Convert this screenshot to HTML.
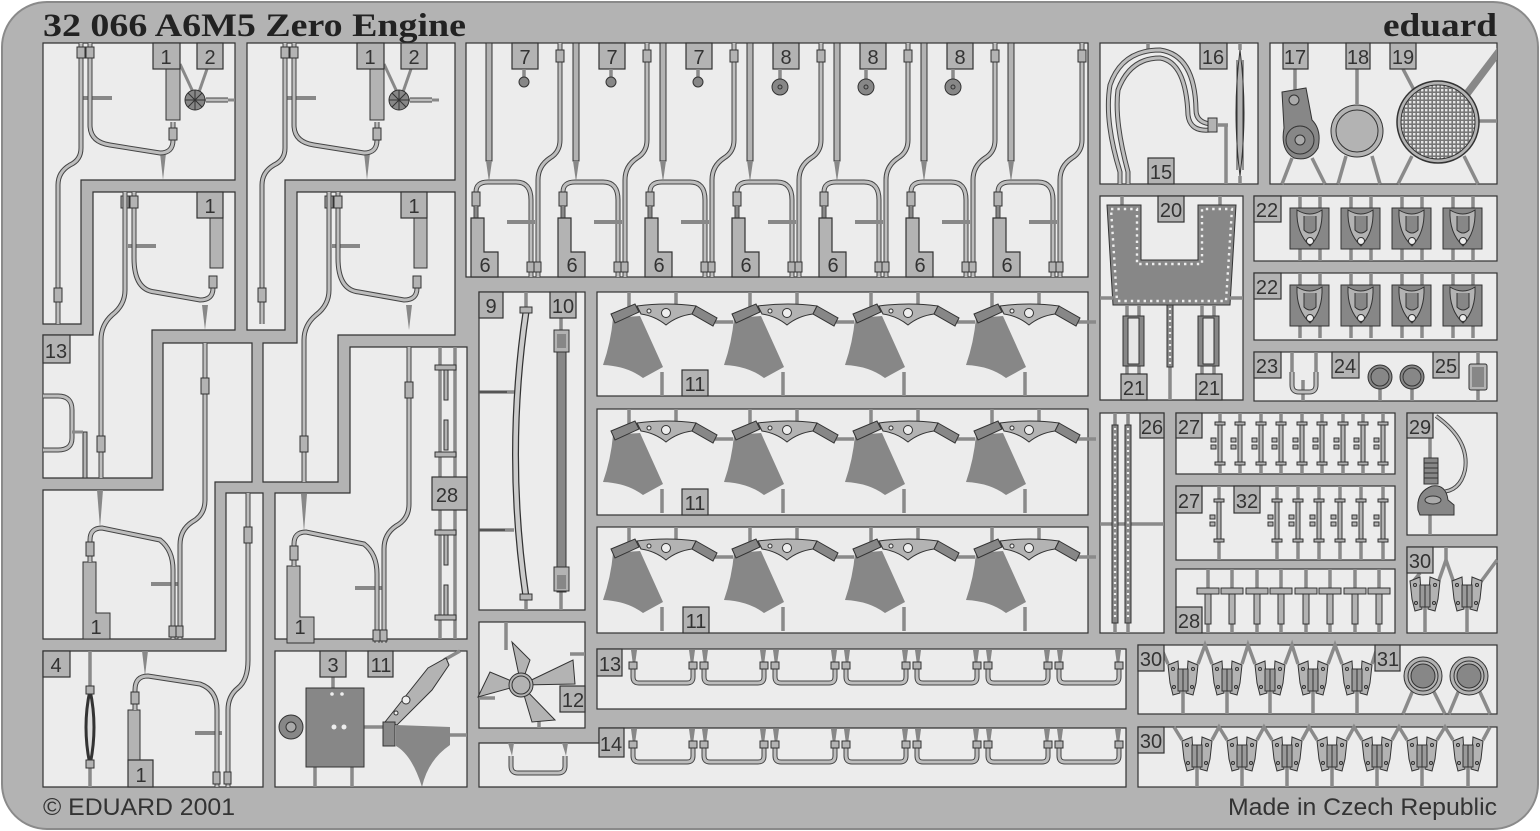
<!DOCTYPE html>
<html><head><meta charset="utf-8">
<style>
html,body{margin:0;padding:0;background:#fff;}
svg{display:block}
.p{fill:#ececec;stroke:#333;stroke-width:1.2}
.tab{fill:#b3b3b3;stroke:#333;stroke-width:1.2}
.lb{font-family:"Liberation Sans",sans-serif;font-size:20px;fill:#333;text-anchor:middle}
.tb{fill:none;stroke:#444;stroke-width:5}
.ti{fill:none;stroke:#bdbdbd;stroke-width:3}
.sp{stroke:#8a8a8a;stroke-width:3.5;fill:none}
.dk{fill:#878787;stroke:#333;stroke-width:1}
.lg{fill:#b3b3b3;stroke:#333;stroke-width:1}
.cn{fill:#b3b3b3;stroke:#333;stroke-width:1}
</style></head><body>
<svg width="1540" height="831" viewBox="0 0 1540 831" xmlns="http://www.w3.org/2000/svg">
<defs>
 <pattern id="grid" width="4" height="4" patternUnits="userSpaceOnUse"><rect width="4" height="4" fill="#777"/><rect x="1" y="1" width="2.4" height="2.4" fill="#e6e6e6"/></pattern>
 <g id="u6t"><path d="M94,43 V140 Q94,152 84,158 Q72,166 72,180 V277"/><path d="M10,218 V192 Q10,182 22,182 H50 Q65,182 65,200 V277"/></g>
 <g id="u6p">
  <rect x="20" y="43" width="6" height="118" class="lg"/><polygon points="20,161 26,161 23,182" fill="#888"/>
  <line x1="41" y1="222" x2="69" y2="222" stroke="#888" stroke-width="4"/>
  <rect x="61" y="262" width="7" height="10" class="cn"/><rect x="68" y="262" width="7" height="10" class="cn"/>
  <rect x="6" y="192" width="8" height="14" class="cn"/><rect x="90" y="50" width="8" height="12" class="cn"/>
  <line x1="10" y1="206" x2="10" y2="218" stroke="#888" stroke-width="3"/>
  <polygon class="tab" points="5,218 18,218 18,252 32,252 32,277 5,277"/>
 </g>
 <g id="p11">
  <line x1="32" y1="0" x2="32" y2="18" class="sp"/><line x1="79" y1="0" x2="79" y2="12" class="sp"/>
  <line x1="65" y1="80" x2="65" y2="104" class="sp"/><line x1="118" y1="30" x2="136" y2="30" class="sp"/>
  <path d="M16,26 L43,24 L66,75 L46,86 Q30,74 6,73 Q14,50 16,26 Z" fill="#878787"/>
  <path d="M40,14 Q70,10 99,14 L95,22 Q80,24 69,33 Q58,24 44,22 Z" class="lg"/>
  <circle cx="52" cy="19" r="2" fill="#eee" stroke="#333"/><circle cx="69" cy="21" r="4.5" fill="#eee" stroke="#333"/>
  <polygon points="14,22 38,12 42,20 18,31" class="dk"/><polygon points="99,14 120,26 116,34 95,22" class="dk"/>
 </g>
 <g id="p30">
  <polygon points="-15,-12 -5,-16 -3,16 -10,18 -13,6" class="lg"/>
  <polygon points="15,-12 5,-16 3,16 10,18 13,6" class="lg"/>
  <rect x="-5" y="-8" width="10" height="22" fill="#9a9a9a" stroke="#333"/>
  <line x1="0" y1="-8" x2="0" y2="14" stroke="#333"/>
  <circle cx="-10" cy="-8" r="1.5" fill="none" stroke="#333"/><circle cx="10" cy="-8" r="1.5" fill="none" stroke="#333"/>
  <circle cx="-9" cy="10" r="1.5" fill="none" stroke="#333"/><circle cx="9" cy="10" r="1.5" fill="none" stroke="#333"/>
 </g>
 <g id="p22">
  <rect x="0" y="0" width="39" height="41" fill="#878787" stroke="#333"/>
  <path d="M7,2 Q20,10 32,2 Q33,25 20,38 Q6,25 7,2 Z" fill="#b3b3b3" stroke="#333"/>
  <path d="M14,8 V22 Q20,28 26,22 V8" fill="#878787" stroke="#333"/>
  <circle cx="20" cy="33" r="3.5" fill="#eee" stroke="#333"/>
 </g>
 <g id="uh"><path d="M0,0 V12 Q0,18 6,18 H54 Q60,18 60,12 V0"/></g>
 <g id="ibar"><rect x="-2" y="0" width="4" height="43" class="lg"/><rect x="-5" y="0" width="10" height="3" class="lg"/><rect x="-5" y="40" width="10" height="3" class="lg"/><rect x="-9" y="16" width="5" height="4" class="lg"/><rect x="-9" y="23" width="5" height="4" class="lg"/></g>
 <g id="tt"><rect x="-11" y="0" width="22" height="6" class="lg"/><rect x="-3" y="6" width="6" height="30" class="lg"/></g>
</defs>

<!-- fret -->
<rect x="2" y="2" width="1536" height="827" rx="45" fill="#b3b3b3" stroke="#8a8a8a" stroke-width="2"/>

<text x="43" y="36" font-family="Liberation Serif,serif" font-weight="bold" font-size="33" fill="#222" textLength="423" lengthAdjust="spacingAndGlyphs">32 066  A6M5 Zero Engine</text>
<text x="1383" y="36" font-family="Liberation Serif,serif" font-weight="bold" font-size="33" fill="#222" textLength="114" lengthAdjust="spacingAndGlyphs">eduard</text>
<text x="43" y="815" font-family="Liberation Sans,sans-serif" font-size="24" fill="#333" textLength="192" lengthAdjust="spacingAndGlyphs">© EDUARD 2001</text>
<text x="1228" y="815" font-family="Liberation Sans,sans-serif" font-size="24" fill="#333" textLength="269" lengthAdjust="spacingAndGlyphs">Made in Czech Republic</text>

<!-- ============ LEFT BLOCK ============ -->
<polygon class="p" points="43,43 235,43 235,180 81,180 81,324 43,324"/>
<polygon class="p" points="93,192 235,192 235,330 152,330 152,478 43,478 43,335 93,335"/>
<polygon class="p" points="163,343 252,343 252,482 215,482 215,639 43,639 43,490 163,490"/>
<polygon class="p" points="43,651 226,651 226,493 263,493 263,787 43,787"/>

<polygon class="p" points="247,43 455,43 455,180 285,180 285,330 247,330"/>
<polygon class="p" points="297,192 455,192 455,335 338,335 338,482 263,482 263,343 297,343"/>
<polygon class="p" points="350,347 467,347 467,639 275,639 275,493 350,493"/>
<rect class="p" x="275" y="651" width="192" height="136"/>

<!-- left block parts -->
<g id="lp1">
 <polygon points="160,153 166,153 163,180" fill="#888"/>
 <line x1="83" y1="98" x2="112" y2="98" stroke="#888" stroke-width="4"/>
 <rect x="166" y="60" width="14" height="60" class="lg"/>
 <line x1="180" y1="64" x2="193" y2="92" stroke="#888" stroke-width="3"/><line x1="207" y1="69" x2="199" y2="92" stroke="#888" stroke-width="3"/>
 <line x1="205" y1="100" x2="235" y2="100" stroke="#888" stroke-width="3"/>
 <g class="tb"><path d="M81,43 V148 Q81,160 70,165 Q58,172 58,185 V324"/><path d="M90,43 V125 Q90,142 110,145 L160,153 Q173,153 173,140 V122"/><path d="M206,100 H228"/></g>
 <g class="ti"><path d="M81,43 V148 Q81,160 70,165 Q58,172 58,185 V324"/><path d="M90,43 V125 Q90,142 110,145 L160,153 Q173,153 173,140 V122"/><path d="M206,100 H228"/></g>
 <circle cx="195" cy="100" r="10" fill="#878787" stroke="#333"/>
 <path d="M188,93 L202,107 M202,93 L188,107 M195,90 V110 M185,100 H205" stroke="#333"/>
 <rect x="77" y="47" width="8" height="11" class="cn"/><rect x="86" y="47" width="8" height="11" class="cn"/>
 <rect x="169" y="128" width="8" height="12" class="cn"/><rect x="54" y="288" width="8" height="14" class="cn"/>
</g>
<use href="#lp1" transform="translate(204,0)"/>

<g id="lp2">
 <polygon points="202,305 208,305 205,330" fill="#888"/>
 <line x1="128" y1="246" x2="156" y2="246" stroke="#888" stroke-width="4"/>
 <rect x="210" y="210" width="13" height="58" class="lg"/>
 <g class="tb"><path d="M134,192 V258 Q134,290 155,292 L200,300 Q213,300 213,288 V276"/></g>
 <g class="ti"><path d="M134,192 V258 Q134,290 155,292 L200,300 Q213,300 213,288 V276"/></g>
 <rect x="121" y="196" width="8" height="12" class="cn"/><rect x="130" y="196" width="8" height="12" class="cn"/>
 <rect x="209" y="276" width="8" height="12" class="cn"/>
</g>
<use href="#lp2" transform="translate(204,0)"/>
<g class="tb"><path d="M125,192 V290 Q125,305 112,315 Q101,325 101,340 V478"/><path d="M329,192 V290 Q329,305 316,315 Q304,325 304,340 V482"/></g>
<g class="ti"><path d="M125,192 V290 Q125,305 112,315 Q101,325 101,340 V478"/><path d="M329,192 V290 Q329,305 316,315 Q304,325 304,340 V482"/></g>
<rect x="97" y="436" width="8" height="16" class="cn"/><rect x="300" y="436" width="8" height="16" class="cn"/>

<!-- part 13 U -->
<g class="tb"><path d="M43,396 H58 Q72,396 72,410 V438 Q72,450 58,450 H43"/></g>
<g class="ti"><path d="M43,396 H58 Q72,396 72,410 V438 Q72,450 58,450 H43"/></g>
<rect x="83" y="432" width="4" height="46" class="lg"/><line x1="72" y1="432" x2="83" y2="432" stroke="#888" stroke-width="3"/>

<!-- P3 parts -->
<g id="lp3">
 <polygon points="97,490 103,490 100,528" fill="#888"/>
 <line x1="151" y1="584" x2="180" y2="584" stroke="#888" stroke-width="4"/>
 <polygon class="lg" points="83,562 96,562 96,613 110,613 110,639 83,639"/>
 <g class="tb"><path d="M205,343 V500 Q205,515 192,522 Q180,530 180,545 V639"/><path d="M90,562 V540 Q90,528 102,528 L160,540 Q173,550 173,570 V639"/></g>
 <g class="ti"><path d="M205,343 V500 Q205,515 192,522 Q180,530 180,545 V639"/><path d="M90,562 V540 Q90,528 102,528 L160,540 Q173,550 173,570 V639"/></g>
 <rect x="201" y="378" width="8" height="16" class="cn"/><rect x="86" y="542" width="8" height="14" class="cn"/>
 <rect x="169" y="626" width="7" height="11" class="cn"/><rect x="176" y="626" width="7" height="11" class="cn"/>
</g>
<use href="#lp3" transform="translate(204,4)"/>
<text class="lb" x="96" y="634">1</text><text class="lb" x="300" y="634">1</text>

<!-- part 28 chain -->
<g>
 <line x1="440" y1="347" x2="440" y2="639" class="sp"/><line x1="455" y1="347" x2="455" y2="639" class="sp"/>
 <g class="lg"><rect x="435" y="365" width="21" height="5"/><rect x="444" y="370" width="4" height="30"/><rect x="444" y="420" width="4" height="30"/><rect x="435" y="452" width="21" height="5"/>
 <rect x="435" y="530" width="21" height="5"/><rect x="444" y="535" width="4" height="30"/><rect x="444" y="585" width="4" height="30"/><rect x="435" y="615" width="21" height="5"/></g>
</g>

<!-- P4 parts -->
<polygon points="142,651 148,651 145,676" fill="#888"/>
<line x1="195" y1="733" x2="222" y2="733" stroke="#888" stroke-width="4"/>
<polygon class="lg" points="128,710 140,710 140,760 153,760 153,787 128,787"/>
<line x1="90" y1="651" x2="90" y2="690" class="sp"/><line x1="90" y1="765" x2="90" y2="787" class="sp"/>
<path d="M90,690 Q82,727 90,765 Q98,727 90,690 Z" fill="#ddd" stroke="#333" stroke-width="3"/>
<rect x="86" y="686" width="8" height="8" class="cn"/><rect x="86" y="760" width="8" height="8" class="cn"/>
<g class="tb"><path d="M135,710 V690 Q135,676 148,676 L200,684 Q217,690 217,710 V787"/><path d="M248,493 V660 Q248,680 238,688 Q228,696 228,710 V787"/></g>
<g class="ti"><path d="M135,710 V690 Q135,676 148,676 L200,684 Q217,690 217,710 V787"/><path d="M248,493 V660 Q248,680 238,688 Q228,696 228,710 V787"/></g>
<rect x="244" y="527" width="8" height="16" class="cn"/><rect x="131" y="692" width="8" height="12" class="cn"/>
<rect x="213" y="772" width="7" height="12" class="cn"/><rect x="224" y="772" width="7" height="12" class="cn"/>

<!-- P4' part 3/11 -->
<line x1="333" y1="677" x2="333" y2="688" class="sp"/><line x1="315" y1="767" x2="315" y2="787" class="sp"/><line x1="352" y1="767" x2="352" y2="787" class="sp"/>
<line x1="364" y1="727" x2="384" y2="727" class="sp"/><line x1="450" y1="735" x2="467" y2="735" class="sp"/>
<line x1="444" y1="660" x2="460" y2="651" class="sp"/>
<rect x="306" y="688" width="58" height="79" fill="#878787" stroke="#333"/>
<circle cx="332" cy="694" r="1.8" fill="#eee"/><circle cx="342" cy="694" r="1.8" fill="#eee"/><circle cx="334" cy="727" r="2.5" fill="#eee"/><circle cx="344" cy="727" r="2.5" fill="#eee"/>
<circle cx="291" cy="727" r="12" fill="#878787" stroke="#333"/><circle cx="291" cy="727" r="5" fill="#aaa" stroke="#333"/>
<path d="M385,722 L428,668 L446,658 L449,665 L432,690 L397,725 Z" class="lg"/>
<circle cx="406" cy="700" r="4" fill="#eee" stroke="#333"/><circle cx="396" cy="713" r="2" fill="#eee" stroke="#333"/>
<rect x="383" y="722" width="12" height="24" class="dk"/>
<path d="M396,725 L450,727 L450,745 Q428,760 422,787 Q412,755 396,746 Z" fill="#878787"/>

<!-- ============ MIDDLE ============ -->
<rect class="p" x="466" y="43" width="622" height="234"/>
<g>
 <use href="#u6t" transform="translate(466,0)" class="tb"/><use href="#u6t" transform="translate(466,0)" class="ti"/>
 <use href="#u6t" transform="translate(553,0)" class="tb"/><use href="#u6t" transform="translate(553,0)" class="ti"/>
 <use href="#u6t" transform="translate(640,0)" class="tb"/><use href="#u6t" transform="translate(640,0)" class="ti"/>
 <use href="#u6t" transform="translate(727,0)" class="tb"/><use href="#u6t" transform="translate(727,0)" class="ti"/>
 <use href="#u6t" transform="translate(814,0)" class="tb"/><use href="#u6t" transform="translate(814,0)" class="ti"/>
 <use href="#u6t" transform="translate(901,0)" class="tb"/><use href="#u6t" transform="translate(901,0)" class="ti"/>
 <use href="#u6t" transform="translate(988,0)" class="tb"/><use href="#u6t" transform="translate(988,0)" class="ti"/>
 <use href="#u6p" transform="translate(466,0)"/><use href="#u6p" transform="translate(553,0)"/><use href="#u6p" transform="translate(640,0)"/><use href="#u6p" transform="translate(727,0)"/><use href="#u6p" transform="translate(814,0)"/><use href="#u6p" transform="translate(901,0)"/><use href="#u6p" transform="translate(988,0)"/>
</g>
<text class="lb" x="485" y="272">6</text><text class="lb" x="572" y="272">6</text><text class="lb" x="659" y="272">6</text><text class="lb" x="746" y="272">6</text><text class="lb" x="833" y="272">6</text><text class="lb" x="920" y="272">6</text><text class="lb" x="1007" y="272">6</text>
<!-- 7/8 tabs -->
<g>
 <rect class="tab" x="512" y="43" width="26" height="26"/><text class="lb" x="525" y="64">7</text><line x1="524" y1="69" x2="524" y2="78" class="sp"/><circle cx="524" cy="82" r="5" class="dk"/>
 <rect class="tab" x="599" y="43" width="26" height="26"/><text class="lb" x="612" y="64">7</text><line x1="611" y1="69" x2="611" y2="78" class="sp"/><circle cx="611" cy="82" r="5" class="dk"/>
 <rect class="tab" x="686" y="43" width="26" height="26"/><text class="lb" x="699" y="64">7</text><line x1="698" y1="69" x2="698" y2="78" class="sp"/><circle cx="698" cy="82" r="5" class="dk"/>
 <rect class="tab" x="773" y="43" width="26" height="26"/><text class="lb" x="786" y="64">8</text><line x1="780" y1="69" x2="780" y2="80" class="sp"/><circle cx="780" cy="87" r="8" class="dk"/><circle cx="780" cy="87" r="2" fill="none" stroke="#333"/>
 <rect class="tab" x="860" y="43" width="26" height="26"/><text class="lb" x="873" y="64">8</text><line x1="866" y1="69" x2="866" y2="80" class="sp"/><circle cx="866" cy="87" r="8" class="dk"/><circle cx="866" cy="87" r="2" fill="none" stroke="#333"/>
 <rect class="tab" x="947" y="43" width="26" height="26"/><text class="lb" x="960" y="64">8</text><line x1="953" y1="69" x2="953" y2="80" class="sp"/><circle cx="953" cy="87" r="8" class="dk"/><circle cx="953" cy="87" r="2" fill="none" stroke="#333"/>
</g>

<!-- 9/10 -->
<rect class="p" x="479" y="292" width="106" height="318"/>
<line x1="479" y1="392" x2="507" y2="392" stroke="#555" stroke-width="3"/><line x1="479" y1="530" x2="505" y2="530" stroke="#555" stroke-width="3"/>
<line x1="507" y1="392" x2="517" y2="392" class="sp"/><line x1="505" y1="530" x2="514" y2="530" class="sp"/>
<line x1="526" y1="292" x2="526" y2="310" class="sp"/><line x1="526" y1="598" x2="526" y2="610" class="sp"/><line x1="561" y1="318" x2="561" y2="330" class="sp"/><line x1="561" y1="590" x2="561" y2="610" class="sp"/>
<path d="M526,312 Q505,455 526,597" fill="none" stroke="#333" stroke-width="7"/><path d="M526,312 Q505,455 526,597" fill="none" stroke="#ccc" stroke-width="4.5"/>
<rect x="520" y="307" width="12" height="6" class="cn"/><rect x="520" y="594" width="12" height="6" class="cn"/>
<rect x="557" y="330" width="9" height="262" fill="#878787" stroke="#333"/>
<rect x="554" y="330" width="15" height="22" class="lg"/><rect x="557" y="334" width="9" height="14" fill="#878787"/>
<rect x="554" y="567" width="15" height="24" class="lg"/><rect x="557" y="575" width="9" height="14" fill="#878787"/>

<!-- 12 -->
<rect class="p" x="479" y="622" width="106" height="106"/>
<line x1="506" y1="622" x2="506" y2="650" class="sp"/><line x1="570" y1="654" x2="585" y2="654" class="sp"/><line x1="479" y1="698" x2="495" y2="698" class="sp"/><line x1="539" y1="715" x2="539" y2="728" class="sp"/>
<path d="M521,685 L512,642 L530,660 Z M521,685 L573,660 L575,684 Z M521,685 L555,720 L532,722 Z M521,685 L478,697 L490,672 Z" class="lg"/>
<circle cx="521" cy="685" r="12" class="lg"/><circle cx="521" cy="685" r="9" fill="none" stroke="#333"/>

<!-- 11 panels -->
<rect class="p" x="597" y="292" width="491" height="104"/>
<rect class="p" x="597" y="409" width="491" height="106"/>
<rect class="p" x="597" y="527" width="491" height="106"/>
<use href="#p11" transform="translate(597,292)"/><use href="#p11" transform="translate(718,292)"/><use href="#p11" transform="translate(839,292)"/><use href="#p11" transform="translate(960,292)"/>
<use href="#p11" transform="translate(597,409)"/><use href="#p11" transform="translate(718,409)"/><use href="#p11" transform="translate(839,409)"/><use href="#p11" transform="translate(960,409)"/>
<use href="#p11" transform="translate(597,527)"/><use href="#p11" transform="translate(718,527)"/><use href="#p11" transform="translate(839,527)"/><use href="#p11" transform="translate(960,527)"/>

<!-- 13 / 14 -->
<rect class="p" x="597" y="649" width="529" height="60"/>
<polygon class="p" points="479,743 599,743 599,728 1126,728 1126,787 479,787"/>
<g id="uh13">
 <polygon points="631,650 637,650 635,665 633,665" fill="#888"/><polygon points="689,650 695,650 693,665 691,665" fill="#888"/>
 <use href="#uh" transform="translate(633,665)" class="tb"/><use href="#uh" transform="translate(633,665)" class="ti"/>
 <rect x="629" y="662" width="8" height="7" class="cn"/><rect x="689" y="662" width="8" height="7" class="cn"/>
</g>
<use href="#uh13" transform="translate(71,0)"/><use href="#uh13" transform="translate(142,0)"/><use href="#uh13" transform="translate(213,0)"/><use href="#uh13" transform="translate(284,0)"/><use href="#uh13" transform="translate(355,0)"/><use href="#uh13" transform="translate(426,0)"/>
<use href="#uh13" transform="translate(0,79)"/><use href="#uh13" transform="translate(71,79)"/><use href="#uh13" transform="translate(142,79)"/><use href="#uh13" transform="translate(213,79)"/><use href="#uh13" transform="translate(284,79)"/><use href="#uh13" transform="translate(355,79)"/><use href="#uh13" transform="translate(426,79)"/>
<polygon points="508,743 514,743 512,756" fill="#888"/><polygon points="562,743 568,743 566,756" fill="#888"/>
<g class="tb"><path d="M511,756 V766 Q511,773 518,773 H558 Q565,773 565,766 V756"/></g>
<g class="ti"><path d="M511,756 V766 Q511,773 518,773 H558 Q565,773 565,766 V756"/></g>

<!-- ============ RIGHT ============ -->
<rect class="p" x="1100" y="43" width="158" height="141"/>
<rect class="p" x="1270" y="43" width="227" height="141"/>
<polygon class="p" points="1100,196 1243,196 1243,400 1100,400"/>
<rect class="p" x="1254" y="196" width="243" height="65"/>
<rect class="p" x="1254" y="273" width="243" height="67"/>
<rect class="p" x="1254" y="352" width="243" height="49"/>
<rect class="p" x="1100" y="413" width="64" height="220"/>
<rect class="p" x="1176" y="413" width="219" height="61"/>
<rect class="p" x="1176" y="486" width="219" height="74"/>
<rect class="p" x="1176" y="569" width="219" height="64"/>
<rect class="p" x="1407" y="413" width="90" height="122"/>
<rect class="p" x="1407" y="547" width="90" height="86"/>
<rect class="p" x="1138" y="645" width="359" height="69"/>
<rect class="p" x="1138" y="727" width="359" height="60"/>

<!-- 15/16 -->
<line x1="1148" y1="43" x2="1148" y2="52" class="sp"/>
<g class="tb"><path d="M1120,184 V172 Q1104,120 1110,85 Q1122,50 1160,50 Q1195,55 1196,110 Q1196,122 1210,124"/><path d="M1128,184 V172 Q1114,120 1118,90 Q1130,58 1160,58 Q1186,62 1188,115 Q1190,132 1210,130"/></g>
<g class="ti"><path d="M1120,184 V172 Q1104,120 1110,85 Q1122,50 1160,50 Q1195,55 1196,110 Q1196,122 1210,124"/><path d="M1128,184 V172 Q1114,120 1118,90 Q1130,58 1160,58 Q1186,62 1188,115 Q1190,132 1210,130"/></g>
<rect x="1208" y="118" width="9" height="14" class="cn"/><line x1="1217" y1="125" x2="1228" y2="125" class="sp"/><line x1="1226" y1="125" x2="1226" y2="184" class="sp"/>
<path d="M1240,50 Q1232,112 1240,176 Q1248,112 1240,50 Z" class="lg"/><path d="M1237,60 V170 M1243,60 V170" stroke="#333"/>
<line x1="1240" y1="43" x2="1240" y2="50" class="sp"/><line x1="1240" y1="176" x2="1240" y2="184" class="sp"/>
<!-- 17/18/19 -->
<line x1="1295" y1="69" x2="1295" y2="90" class="sp"/><line x1="1357" y1="69" x2="1357" y2="104" class="sp"/>
<line x1="1282" y1="184" x2="1292" y2="158" class="sp"/><line x1="1325" y1="184" x2="1312" y2="158" class="sp"/>
<line x1="1338" y1="184" x2="1346" y2="156" class="sp"/><line x1="1380" y1="184" x2="1372" y2="156" class="sp"/>
<line x1="1398" y1="184" x2="1412" y2="156" class="sp"/><line x1="1478" y1="184" x2="1464" y2="156" class="sp"/>
<line x1="1403" y1="69" x2="1414" y2="90" class="sp"/><line x1="1476" y1="121" x2="1497" y2="121" class="sp"/>
<polygon points="1465,90 1497,48 1497,60 1470,96" fill="#888"/>
<path d="M1282,92 L1306,88 L1312,120 Q1322,130 1318,148 Q1310,162 1294,158 Q1280,150 1284,128 Z" fill="#878787" stroke="#333"/>
<circle cx="1300" cy="140" r="14" fill="#878787" stroke="#333"/><circle cx="1300" cy="140" r="5" fill="#aaa" stroke="#333"/>
<circle cx="1294" cy="100" r="5" fill="#aaa" stroke="#333"/>
<circle cx="1357" cy="131" r="26" class="lg" stroke-width="1.5"/><circle cx="1357" cy="131" r="21" fill="#b3b3b3" stroke="#333"/>
<circle cx="1438" cy="122" r="41" fill="#b3b3b3" stroke="#333" stroke-width="1.5"/><circle cx="1438" cy="122" r="37" fill="url(#grid)" stroke="#333"/>
<!-- 20/21 -->
<line x1="1122" y1="196" x2="1122" y2="205" class="sp"/><line x1="1220" y1="196" x2="1220" y2="205" class="sp"/>
<polygon points="1107,205 1141,205 1141,260 1198,260 1198,205 1236,205 1230,305 1113,305" fill="#878787" stroke="#333"/>
<polygon points="1111,209 1137,209 1137,264 1202,264 1202,209 1232,209 1226,301 1117,301" fill="none" stroke="#eee" stroke-width="2.4" stroke-dasharray="2.4,4"/>
<line x1="1100" y1="298" x2="1113" y2="298" class="sp"/><line x1="1230" y1="298" x2="1243" y2="298" class="sp"/>
<line x1="1170" y1="305" x2="1170" y2="400" class="sp"/>
<rect x="1167" y="305" width="6" height="62" fill="#878787" stroke="#333"/><line x1="1170" y1="308" x2="1170" y2="364" stroke="#eee" stroke-width="2.2" stroke-dasharray="2,4"/>
<g id="p21">
 <line x1="1127" y1="305" x2="1127" y2="316" class="sp"/><line x1="1127" y1="365" x2="1127" y2="374" class="sp"/><line x1="1139" y1="305" x2="1139" y2="316" class="sp"/><line x1="1139" y1="365" x2="1139" y2="374" class="sp"/>
 <rect x="1123" y="316" width="21" height="50" fill="#878787" stroke="#333"/><rect x="1128" y="318" width="11" height="46" fill="#e6e6e6" stroke="#333"/>
</g>
<use href="#p21" transform="translate(75,0)"/>
<!-- 22 -->
<g id="r22">
 <line x1="1300" y1="196" x2="1300" y2="261" class="sp"/><line x1="1320" y1="196" x2="1320" y2="261" class="sp"/>
 <line x1="1351" y1="196" x2="1351" y2="261" class="sp"/><line x1="1371" y1="196" x2="1371" y2="261" class="sp"/>
 <line x1="1402" y1="196" x2="1402" y2="261" class="sp"/><line x1="1422" y1="196" x2="1422" y2="261" class="sp"/>
 <line x1="1453" y1="196" x2="1453" y2="261" class="sp"/><line x1="1473" y1="196" x2="1473" y2="261" class="sp"/>
 <use href="#p22" transform="translate(1290,208)"/><use href="#p22" transform="translate(1341,208)"/><use href="#p22" transform="translate(1392,208)"/><use href="#p22" transform="translate(1443,208)"/>
</g>
<use href="#r22" transform="translate(0,77)"/>
<!-- 23/24/25 -->
<line x1="1303" y1="380" x2="1303" y2="401" class="sp"/><line x1="1380" y1="365" x2="1380" y2="401" class="sp"/><line x1="1412" y1="365" x2="1412" y2="401" class="sp"/><line x1="1478" y1="352" x2="1478" y2="401" class="sp"/>
<line x1="1292" y1="352" x2="1292" y2="372" class="sp"/><line x1="1316" y1="352" x2="1316" y2="372" class="sp"/>
<g class="tb"><path d="M1292,372 V385 Q1292,392 1299,392 H1309 Q1316,392 1316,385 V372"/></g>
<g class="ti"><path d="M1292,372 V385 Q1292,392 1299,392 H1309 Q1316,392 1316,385 V372"/></g>
<circle cx="1380" cy="377" r="12" class="dk"/><circle cx="1380" cy="377" r="9" fill="none" stroke="#333"/>
<circle cx="1412" cy="377" r="12" class="dk"/><circle cx="1412" cy="377" r="9" fill="none" stroke="#333"/>
<rect x="1469" y="364" width="18" height="26" rx="2" class="lg"/><rect x="1472" y="367" width="12" height="20" fill="#878787"/>
<!-- 26 -->
<line x1="1115" y1="413" x2="1115" y2="633" class="sp"/><line x1="1128" y1="413" x2="1128" y2="633" class="sp"/><line x1="1100" y1="524" x2="1164" y2="524" class="sp"/>
<rect x="1112" y="425" width="6" height="198" fill="#878787" stroke="#333"/><rect x="1125" y="425" width="6" height="198" fill="#878787" stroke="#333"/>
<line x1="1115" y1="428" x2="1115" y2="620" stroke="#eee" stroke-width="2.2" stroke-dasharray="2,3.5"/><line x1="1128" y1="428" x2="1128" y2="620" stroke="#eee" stroke-width="2.2" stroke-dasharray="2,3.5"/>
<!-- 27 -->
<g id="r27">
 <line x1="1220" y1="413" x2="1220" y2="474" class="sp"/><line x1="1240" y1="413" x2="1240" y2="474" class="sp"/><line x1="1261" y1="413" x2="1261" y2="474" class="sp"/><line x1="1281" y1="413" x2="1281" y2="474" class="sp"/><line x1="1302" y1="413" x2="1302" y2="474" class="sp"/><line x1="1322" y1="413" x2="1322" y2="474" class="sp"/><line x1="1343" y1="413" x2="1343" y2="474" class="sp"/><line x1="1363" y1="413" x2="1363" y2="474" class="sp"/><line x1="1383" y1="413" x2="1383" y2="474" class="sp"/>
 <use href="#ibar" transform="translate(1220,422)"/><use href="#ibar" transform="translate(1240,422)"/><use href="#ibar" transform="translate(1261,422)"/><use href="#ibar" transform="translate(1281,422)"/><use href="#ibar" transform="translate(1302,422)"/><use href="#ibar" transform="translate(1322,422)"/><use href="#ibar" transform="translate(1343,422)"/><use href="#ibar" transform="translate(1363,422)"/><use href="#ibar" transform="translate(1383,422)"/>
</g>
<line x1="1219" y1="486" x2="1219" y2="560" class="sp"/>
<use href="#ibar" transform="translate(1219,499)"/>
<g>
 <line x1="1277" y1="486" x2="1277" y2="560" class="sp"/><line x1="1298" y1="486" x2="1298" y2="560" class="sp"/><line x1="1319" y1="486" x2="1319" y2="560" class="sp"/><line x1="1340" y1="486" x2="1340" y2="560" class="sp"/><line x1="1361" y1="486" x2="1361" y2="560" class="sp"/><line x1="1383" y1="486" x2="1383" y2="560" class="sp"/>
 <use href="#ibar" transform="translate(1277,499)"/><use href="#ibar" transform="translate(1298,499)"/><use href="#ibar" transform="translate(1319,499)"/><use href="#ibar" transform="translate(1340,499)"/><use href="#ibar" transform="translate(1361,499)"/><use href="#ibar" transform="translate(1383,499)"/>
</g>
<!-- 28 T -->
<g>
 <line x1="1208" y1="569" x2="1208" y2="633" class="sp"/><line x1="1232" y1="569" x2="1232" y2="633" class="sp"/><line x1="1257" y1="569" x2="1257" y2="633" class="sp"/><line x1="1281" y1="569" x2="1281" y2="633" class="sp"/><line x1="1306" y1="569" x2="1306" y2="633" class="sp"/><line x1="1330" y1="569" x2="1330" y2="633" class="sp"/><line x1="1355" y1="569" x2="1355" y2="633" class="sp"/><line x1="1379" y1="569" x2="1379" y2="633" class="sp"/>
 <use href="#tt" transform="translate(1208,588)"/><use href="#tt" transform="translate(1232,588)"/><use href="#tt" transform="translate(1257,588)"/><use href="#tt" transform="translate(1281,588)"/><use href="#tt" transform="translate(1306,588)"/><use href="#tt" transform="translate(1330,588)"/><use href="#tt" transform="translate(1355,588)"/><use href="#tt" transform="translate(1379,588)"/>
</g>
<!-- 29 -->
<line x1="1430" y1="438" x2="1430" y2="458" class="sp"/><line x1="1430" y1="510" x2="1430" y2="535" class="sp"/>
<path d="M1436,416 Q1470,440 1465,470 Q1460,492 1440,492" fill="none" stroke="#444" stroke-width="4"/><path d="M1436,416 Q1470,440 1465,470 Q1460,492 1440,492" fill="none" stroke="#bdbdbd" stroke-width="2.2"/>
<rect x="1424" y="458" width="14" height="26" fill="#878787" stroke="#333"/><path d="M1424,463 H1438 M1424,468 H1438 M1424,473 H1438 M1424,478 H1438" stroke="#333"/>
<path d="M1418,510 Q1416,492 1432,486 Q1446,484 1448,500 L1454,505 V515 H1420 Z" fill="#878787" stroke="#333"/>
<ellipse cx="1433" cy="500" rx="8" ry="4" fill="#aaa" stroke="#333"/>
<!-- 30 / 31 -->
<g>
 <line x1="1425" y1="605" x2="1425" y2="633" class="sp"/><line x1="1467" y1="605" x2="1467" y2="633" class="sp"/>
 <line x1="1412" y1="583" x2="1420" y2="573" class="sp"/><line x1="1438" y1="583" x2="1446" y2="560" class="sp"/><line x1="1454" y1="583" x2="1446" y2="560" class="sp"/><line x1="1446" y1="560" x2="1446" y2="547" class="sp"/><line x1="1480" y1="583" x2="1497" y2="560" class="sp"/>
 <use href="#p30" transform="translate(1425,593)"/><use href="#p30" transform="translate(1467,593)"/>
</g>
<g id="r30b">
 <line x1="1183" y1="690" x2="1183" y2="714" class="sp"/><line x1="1227" y1="690" x2="1227" y2="714" class="sp"/><line x1="1270" y1="690" x2="1270" y2="714" class="sp"/><line x1="1313" y1="690" x2="1313" y2="714" class="sp"/><line x1="1357" y1="690" x2="1357" y2="714" class="sp"/>
 <path d="M1168,664 L1160,645 M1198,664 L1205,645 L1212,664 M1242,664 L1248,645 L1255,664 M1285,664 L1292,645 L1298,664 M1328,664 L1335,645 L1342,664 M1372,664 L1378,645" class="sp"/>
 <use href="#p30" transform="translate(1183,677)"/><use href="#p30" transform="translate(1227,677)"/><use href="#p30" transform="translate(1270,677)"/><use href="#p30" transform="translate(1313,677)"/><use href="#p30" transform="translate(1357,677)"/>
</g>
<line x1="1413" y1="690" x2="1403" y2="714" class="sp"/><line x1="1433" y1="690" x2="1445" y2="714" class="sp"/><line x1="1459" y1="690" x2="1449" y2="714" class="sp"/><line x1="1479" y1="690" x2="1490" y2="714" class="sp"/>
<circle cx="1423" cy="676" r="19" fill="#b3b3b3" stroke="#333"/><circle cx="1423" cy="676" r="15" fill="none" stroke="#333"/><circle cx="1423" cy="676" r="12" fill="#878787" stroke="#333"/>
<circle cx="1469" cy="676" r="19" fill="#b3b3b3" stroke="#333"/><circle cx="1469" cy="676" r="15" fill="none" stroke="#333"/><circle cx="1469" cy="676" r="12" fill="#878787" stroke="#333"/>
<g>
 <line x1="1197" y1="766" x2="1197" y2="787" class="sp"/><line x1="1242" y1="766" x2="1242" y2="787" class="sp"/><line x1="1287" y1="766" x2="1287" y2="787" class="sp"/><line x1="1332" y1="766" x2="1332" y2="787" class="sp"/><line x1="1377" y1="766" x2="1377" y2="787" class="sp"/><line x1="1422" y1="766" x2="1422" y2="787" class="sp"/><line x1="1468" y1="766" x2="1468" y2="787" class="sp"/>
 <path d="M1182,740 L1174,727 M1212,740 L1219,727 L1227,740 M1257,740 L1264,727 L1272,740 M1302,740 L1309,727 L1317,740 M1347,740 L1354,727 L1362,740 M1392,740 L1399,727 L1407,740 M1437,740 L1445,727 L1453,740 M1483,740 L1490,727" class="sp"/>
 <use href="#p30" transform="translate(1197,753)"/><use href="#p30" transform="translate(1242,753)"/><use href="#p30" transform="translate(1287,753)"/><use href="#p30" transform="translate(1332,753)"/><use href="#p30" transform="translate(1377,753)"/><use href="#p30" transform="translate(1422,753)"/><use href="#p30" transform="translate(1468,753)"/>
</g>

<!-- ============ TABS / LABELS ============ -->
<g>
 <rect class="tab" x="153" y="43" width="27" height="26"/><text class="lb" x="166" y="64">1</text>
 <rect class="tab" x="197" y="43" width="26" height="26"/><text class="lb" x="210" y="64">2</text>
 <rect class="tab" x="357" y="43" width="27" height="26"/><text class="lb" x="370" y="64">1</text>
 <rect class="tab" x="401" y="43" width="26" height="26"/><text class="lb" x="414" y="64">2</text>
 <rect class="tab" x="197" y="192" width="26" height="26"/><text class="lb" x="210" y="213">1</text>
 <rect class="tab" x="401" y="192" width="26" height="26"/><text class="lb" x="414" y="213">1</text>
 <rect class="tab" x="43" y="335" width="27" height="28"/><text class="lb" x="56" y="358">13</text>
 <rect class="tab" x="43" y="651" width="27" height="26"/><text class="lb" x="56" y="672">4</text>
 <rect class="tab" x="432" y="477" width="35" height="33"/><text class="lb" x="447" y="502">28</text>
 <rect class="tab" x="320" y="651" width="26" height="26"/><text class="lb" x="333" y="672">3</text>
 <rect class="tab" x="368" y="651" width="25" height="26"/><text class="lb" x="381" y="672">11</text>
 <polygon class="tab" points="128,760 153,760 153,787 128,787"/><text class="lb" x="141" y="782">1</text>
 <rect class="tab" x="479" y="292" width="24" height="26"/><text class="lb" x="491" y="313">9</text>
 <rect class="tab" x="550" y="292" width="26" height="26"/><text class="lb" x="563" y="313">10</text>
 <rect class="tab" x="560" y="686" width="25" height="26"/><text class="lb" x="573" y="707">12</text>
 <rect class="tab" x="682" y="370" width="26" height="26"/><text class="lb" x="695" y="391">11</text>
 <rect class="tab" x="682" y="489" width="26" height="26"/><text class="lb" x="695" y="510">11</text>
 <rect class="tab" x="683" y="607" width="26" height="26"/><text class="lb" x="696" y="628">11</text>
 <rect class="tab" x="597" y="649" width="25" height="27"/><text class="lb" x="610" y="671">13</text>
 <rect class="tab" x="599" y="728" width="25" height="29"/><text class="lb" x="611" y="751">14</text>
 <rect class="tab" x="1200" y="43" width="27" height="26"/><text class="lb" x="1213" y="64">16</text>
 <rect class="tab" x="1148" y="158" width="26" height="26"/><text class="lb" x="1161" y="179">15</text>
 <rect class="tab" x="1283" y="43" width="25" height="26"/><text class="lb" x="1295" y="64">17</text>
 <rect class="tab" x="1346" y="43" width="24" height="26"/><text class="lb" x="1358" y="64">18</text>
 <rect class="tab" x="1390" y="43" width="26" height="26"/><text class="lb" x="1403" y="64">19</text>
 <rect class="tab" x="1158" y="196" width="26" height="26"/><text class="lb" x="1171" y="217">20</text>
 <rect class="tab" x="1121" y="374" width="26" height="26"/><text class="lb" x="1134" y="395">21</text>
 <rect class="tab" x="1196" y="374" width="26" height="26"/><text class="lb" x="1209" y="395">21</text>
 <rect class="tab" x="1254" y="196" width="27" height="26"/><text class="lb" x="1267" y="217">22</text>
 <rect class="tab" x="1254" y="273" width="27" height="26"/><text class="lb" x="1267" y="294">22</text>
 <rect class="tab" x="1254" y="352" width="27" height="26"/><text class="lb" x="1267" y="373">23</text>
 <rect class="tab" x="1332" y="352" width="27" height="26"/><text class="lb" x="1345" y="373">24</text>
 <rect class="tab" x="1433" y="352" width="26" height="26"/><text class="lb" x="1446" y="373">25</text>
 <rect class="tab" x="1140" y="413" width="24" height="25"/><text class="lb" x="1152" y="434">26</text>
 <rect class="tab" x="1176" y="413" width="26" height="25"/><text class="lb" x="1189" y="434">27</text>
 <rect class="tab" x="1176" y="486" width="26" height="27"/><text class="lb" x="1189" y="508">27</text>
 <rect class="tab" x="1234" y="486" width="26" height="27"/><text class="lb" x="1247" y="508">32</text>
 <rect class="tab" x="1176" y="607" width="26" height="26"/><text class="lb" x="1189" y="628">28</text>
 <rect class="tab" x="1407" y="413" width="26" height="25"/><text class="lb" x="1420" y="434">29</text>
 <rect class="tab" x="1407" y="547" width="26" height="26"/><text class="lb" x="1420" y="568">30</text>
 <rect class="tab" x="1138" y="645" width="26" height="26"/><text class="lb" x="1151" y="666">30</text>
 <rect class="tab" x="1375" y="645" width="25" height="26"/><text class="lb" x="1388" y="666">31</text>
 <rect class="tab" x="1138" y="727" width="26" height="26"/><text class="lb" x="1151" y="748">30</text>
</g>
</svg>
</body></html>
